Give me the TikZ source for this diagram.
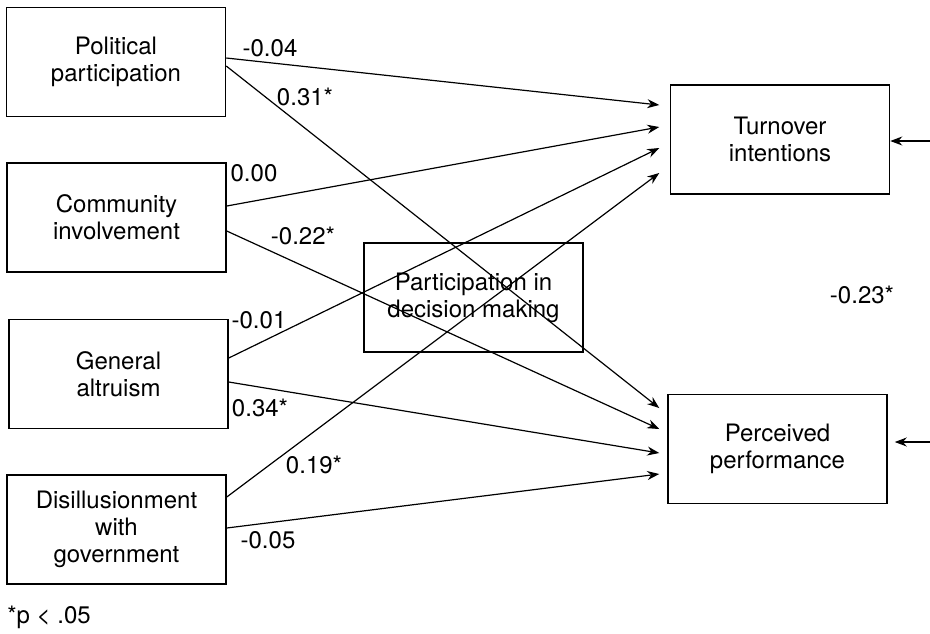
\documentclass[tikz,border=0pt]{standalone}
\usepackage{fontspec}
\setmainfont{TeX Gyre Heros}
\usetikzlibrary{arrows.meta,calc}
\tikzset{
  varbox/.style={draw,line width=0.75pt,minimum width=109.5pt,minimum height=54.5pt,align=center,font=\fontsize{12}{13.5}\selectfont},
  path/.style={line width=0.6pt,-{Stealth[length=6pt,width=4.5pt]}},
  coef/.style={font=\fontsize{12}{13.5}\selectfont,inner sep=0pt}
}
\begin{document}
\begin{tikzpicture}[x=0.5pt,y=-0.5pt]
		\useasboundingbox (0,0) rectangle (930,633);
		% predictors
		\node[varbox] (pol) at (116,62) {Political\\participation};
		\node[varbox] (com) at (116.5,217.5) {Community\\involvement};
		\node[varbox] (alt) at (118.5,374) {General\\altruism};
		\node[varbox] (dis) at (116.5,529.5) {Disillusionment\\with\\government};
		\node[varbox] (part) at (473.5,297.5) {Participation in\\decision making};
		% outcomes
		\node[varbox] (turn) at (780,139.5) {Turnover\\intentions};
		\node[varbox] (perf) at (777.5,449) {Perceived\\performance};
		\coordinate (eturn) at (930,141);
		\coordinate (eperf) at (930,442);
		% paths to turnover
		\draw[path] ($(pol.east)+(0,-4)$) -- ($(turn.west)+(-10.5,-34.5)$);
		\draw[path] ($(com.east)+(0,-11.5)$) -- ($(turn.west)+(-10.5,-12.5)$);
		\draw[path] ($(alt.east)+(0,-16)$) -- ($(turn.west)+(-10.5,8.5)$);
		\draw[path] ($(dis.east)+(0,-32.5)$) -- ($(turn.west)+(-10.5,33.5)$);
		% paths to performance
		\draw[path] ($(pol.east)+(0,4)$) -- ($(perf.west)+(-8,-41)$);
		\draw[path] ($(com.east)+(0,13.5)$) -- ($(perf.west)+(-8,-20)$);
		\draw[path] ($(alt.east)+(0,8)$) -- ($(perf.west)+(-8,4)$);
		\draw[path] ($(dis.east)+(0,-1.5)$) -- ($(perf.west)+(-8,25)$);
		% error terms
		\draw[path] (eturn) -- (eturn -| turn.east);
		\draw[path] (eperf) -- ($(eperf -| perf.east)+(7,0)$);
		% coefficients
		\node[coef] (c1) at (270,48) {-0.04};
		\node[coef] (c2) at (305,97) {0.31*};
		\node[coef] (c3) at (254,173) {0.00};
		\node[coef] (c4) at (303,236) {-0.22*};
		\node[coef] (c5) at (259,320) {-0.01};
		\node[coef] (c6) at (260,408) {0.34*};
		\node[coef] (c7) at (314,465) {0.19*};
		\node[coef] (c8) at (268,540) {-0.05};
		\node[coef] (c9) at (862,295) {-0.23*};
		\node[coef,anchor=west] (note) at (7,617) {*p < .05};
	    \end{tikzpicture}
\end{document}
